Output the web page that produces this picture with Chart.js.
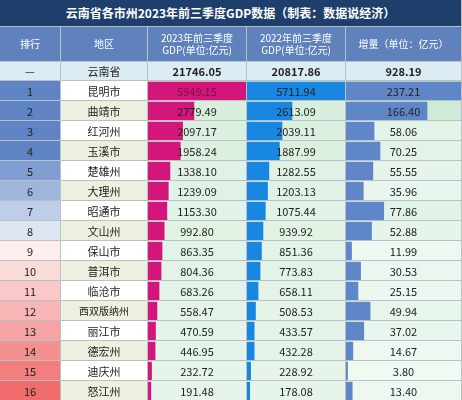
<!DOCTYPE html>
<html><head><meta charset="utf-8">
<script src="https://cdn.jsdelivr.net/npm/chart.js@4"></script>
<style>
body{margin:0;width:462px;height:400px;overflow:hidden;font-family:"Noto Sans CJK SC","Noto Sans",sans-serif;background:#fff}
#wrap{position:relative;width:462px;height:400px}
.c{position:absolute;display:flex;align-items:center;justify-content:center;box-sizing:border-box;font-size:11px;color:#222;border-right:1px solid #b8c0c8;border-bottom:1px solid #b8c0c8;text-align:center;line-height:12px;z-index:2}
.bg{z-index:0}
canvas{position:absolute;z-index:1}
</style></head><body>
<div id="wrap"></div>
<script>
// table data
const ranks = ['1','2','3','4','5','6','7','8','9','10','11','12','13','14','15','16'];
const regions = ['昆明市','曲靖市','红河州','玉溪市','楚雄州','大理州','昭通市','文山州','保山市','普洱市','临沧市','西双版纳州','丽江市','德宏州','迪庆州','怒江州'];
const gdp2023 = [5949.15,2779.49,2097.17,1958.24,1338.10,1239.09,1153.30,992.80,863.35,804.36,683.26,558.47,470.59,446.95,232.72,191.48];
const gdp2022 = [5711.94,2613.09,2039.11,1887.99,1282.55,1203.13,1075.44,939.92,851.36,773.83,658.11,508.53,433.57,432.28,228.92,178.08];
const increase = [237.21,166.40,58.06,70.25,55.55,35.96,77.86,52.88,11.99,30.53,25.15,49.94,37.02,14.67,3.80,13.40];
const province = ['—','云南省','21746.05','20817.86','928.19'];

const wrap = document.getElementById('wrap');
const colX = [0, 61, 148, 247, 346, 462];
const top0 = 81, rowH = 20;

function cell(x, y, w, h, text, style) {
  const d = document.createElement('div');
  d.className = 'c';
  d.style.left = x + 'px'; d.style.top = y + 'px';
  d.style.width = w + 'px'; d.style.height = h + 'px';
  d.innerHTML = text;
  Object.assign(d.style, style || {});
  wrap.appendChild(d);
  return d;
}

// title + header
cell(0, 0, 462, 27, '云南省各市州2023年前三季度GDP数据（制表：数据说经济）',
  {background:'#1e3e6c', color:'#fff', fontSize:'12px', fontWeight:'bold'});
const heads = ['排行','地区','2023年前三季度<br>GDP(单位:亿元)','2022年前三季度<br>GDP(单位:亿元)','增量（单位：亿元）'];
heads.forEach((h, i) => cell(colX[i], 27, colX[i+1]-colX[i], 35, h,
  {background:'#5f82bd', color:'#fff', fontSize:'10px'}));
province.forEach((p, i) => cell(colX[i], 62, colX[i+1]-colX[i], 19, p,
  {background:'#dcecf3', fontWeight: i > 1 ? 'bold' : 'normal'}));

// rank colour: blue fading to white then pink to red
function rankColor(i) {
  if (i < 8) {
    const a = i < 4 ? 1 : 1 - (i - 3) / 5;
    return `rgba(95,132,196,${Math.max(a, 0.08)})`;
  }
  const a = (i - 7) / 8;
  return `rgba(240,100,100,${Math.max(a * 0.95, 0.1)})`;
}

ranks.forEach((r, i) => {
  const y = top0 + i * rowH;
  cell(colX[0], y, colX[1]-colX[0], rowH, r, {background: rankColor(i)});
  cell(colX[1], y, colX[2]-colX[1], rowH, regions[i],
    {background: i % 2 ? '#eef0df' : '#fff', fontSize: regions[i].length > 4 ? '10px' : '11px'});
  const g = 'rgba(160,215,175,' + (0.25 + 0.35 * gdp2023[i] / gdp2023[0]) + ')';
  cell(colX[2], y, colX[3]-colX[2], rowH, '', {background: g}).classList.add('bg');
  cell(colX[3], y, colX[4]-colX[3], rowH, '', {background: g}).classList.add('bg');
  cell(colX[4], y, colX[5]-colX[4], rowH, '',
    {background: 'rgba(160,215,175,' + (0.15 + 0.5 * increase[i] / increase[0]) + ')'}).classList.add('bg');
  [gdp2023, gdp2022, increase].forEach((arr, k) => {
    const d = cell(colX[k+2], y, colX[k+3]-colX[k+2], rowH, arr[i].toFixed(2), {background:'transparent', zIndex: 3});
    if (i === 0 && k === 0) d.style.color = '#7a1040';
  });
});

// data bars drawn by Chart.js
function barChart(k, values, color) {
  const cv = document.createElement('canvas');
  const w = colX[k+1] - colX[k], h = rowH * ranks.length;
  cv.style.left = colX[k] + 'px'; cv.style.top = top0 + 'px';
  cv.style.width = w + 'px'; cv.style.height = h + 'px';
  cv.width = w; cv.height = h;
  wrap.appendChild(cv);
  new Chart(cv, {
    type: 'bar',
    data: { labels: regions, datasets: [{ data: values, backgroundColor: color, barPercentage: 1, categoryPercentage: 0.92 }] },
    options: {
      indexAxis: 'y', responsive: false, animation: false,
      layout: { padding: 0 },
      plugins: { legend: { display: false }, tooltip: { enabled: false } },
      scales: {
        x: { display: false, min: 0, max: values[0] },
        y: { display: false }
      }
    }
  });
}
barChart(2, gdp2023, '#d4157c');
barChart(3, gdp2022, '#1787e2');
barChart(4, increase, '#5f86c6');
</script>
</body></html>
